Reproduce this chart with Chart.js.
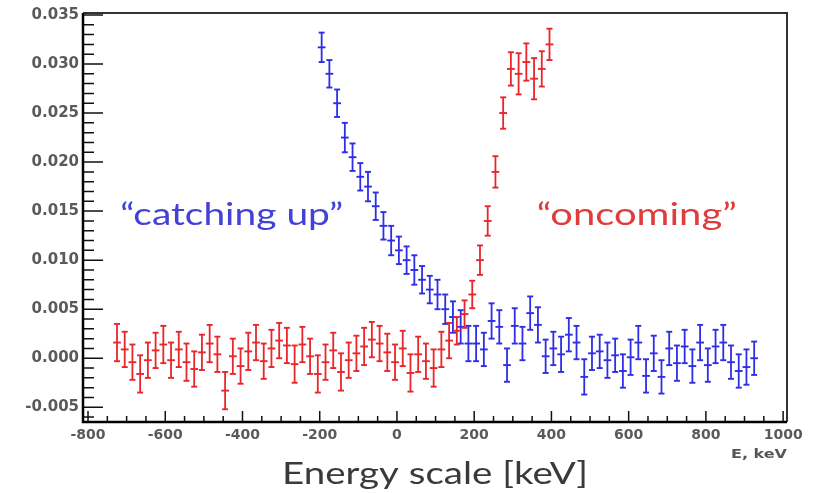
<!DOCTYPE html>
<html lang="en">
<head>
<meta charset="UTF-8">
<title>Energy scale [keV]</title>
<script src="https://cdn.jsdelivr.net/npm/chart.js"></script>
<style>
  html, body { margin:0; padding:0; background:#fff; }
  #c { display:block; }
</style>
</head>
<body>
<canvas id="c" width="815" height="493"></canvas>
<script>
// ---- data ----
const binWidth = 20;          // keV
const redStart = -725;        // centre of first "oncoming" bin
const blueStart = -195;       // centre of first "catching up" bin

const redValues = [
  0.0016, 0.0009, -0.0004, -0.0016, -0.0002, 0.0008, 0.0014, -0.0002, 0.0009, -0.0004,
  -0.0011, 0.0006, 0.0015, 0.0004, -0.0033, 0.0002, -0.0008, 0.0007, 0.0016, -0.0003,
  0.0010, 0.0018, 0.0013, -0.0006, 0.0014, 0.0002, -0.0016, -0.0004, 0.0008, -0.0014,
  -0.0002, 0.0005, 0.0012, 0.0019, 0.0015, 0.0006, -0.0004, 0.0010, -0.0015, 0.0004,
  -0.0003, -0.0010, 0.0009, 0.0018, 0.0028, 0.0045, 0.0065, 0.0100, 0.0140, 0.0190,
  0.0250, 0.0295, 0.0290, 0.0302, 0.0285, 0.0295, 0.0320
];
const redErrors = [
  0.0019, 0.0018, 0.0018, 0.0019, 0.0018, 0.0018, 0.0019, 0.0018, 0.0018, 0.0019,
  0.0018, 0.0018, 0.0019, 0.0018, 0.0019, 0.0018, 0.0018, 0.0019, 0.0018, 0.0018,
  0.0019, 0.0018, 0.0018, 0.0019, 0.0018, 0.0018, 0.0019, 0.0018, 0.0018, 0.0019,
  0.0018, 0.0018, 0.0019, 0.0018, 0.0018, 0.0019, 0.0018, 0.0018, 0.0019, 0.0018,
  0.0018, 0.0019, 0.0018, 0.0018, 0.0014, 0.0014, 0.0014, 0.0015, 0.0015, 0.0016,
  0.0016, 0.0017, 0.0021, 0.0019, 0.0021, 0.0018, 0.0016
];

const blueValues = [
  0.0317, 0.0290, 0.0260, 0.0225, 0.0205, 0.0185, 0.0175, 0.0155, 0.0135, 0.0120,
  0.0110, 0.0100, 0.0090, 0.0080, 0.0070, 0.0065, 0.0050, 0.0042, 0.0032, 0.0015,
  0.0015, 0.0009, 0.0038, 0.0032, -0.0007, 0.0033, 0.0015, 0.0046, 0.0034, 0.0002,
  0.0010, 0.0004, 0.0024, 0.0016, -0.0019, 0.0005, 0.0007, -0.0002, 0.0003, -0.0013,
  0.0001, 0.0016, -0.0018, 0.0005, -0.0019, 0.0010, -0.0005, 0.0012, -0.0008, 0.0016,
  -0.0007, 0.0012, 0.0016, -0.0004, -0.0013, -0.0009, 0.0000
];
const blueErrors = [
  0.0015, 0.0014, 0.0014, 0.0015, 0.0014, 0.0014, 0.0015, 0.0014, 0.0014, 0.0015,
  0.0014, 0.0014, 0.0015, 0.0014, 0.0014, 0.0015, 0.0015, 0.0016, 0.0017, 0.0018,
  0.0018, 0.0017, 0.0018, 0.0017, 0.0017, 0.0018, 0.0017, 0.0017, 0.0018, 0.0017,
  0.0017, 0.0018, 0.0017, 0.0017, 0.0018, 0.0017, 0.0017, 0.0018, 0.0017, 0.0017,
  0.0018, 0.0017, 0.0017, 0.0018, 0.0017, 0.0017, 0.0018, 0.0017, 0.0017, 0.0018,
  0.0017, 0.0017, 0.0018, 0.0017, 0.0017, 0.0018, 0.0017
];

const xTickValues = [-800, -600, -400, -200, 0, 200, 400, 600, 800, 1000];
const yTickValues = [-0.005, 0, 0.005, 0.010, 0.015, 0.020, 0.025, 0.030, 0.035];

// annotations: [text, x (keV), y, colour]
const labels = [
  ['\u201Ccatching up\u201D', -428, 0.0136, '#4242d6'],
  ['\u201Concoming\u201D', 621, 0.0136, '#e03c3c']
];

const RED = '#e8262b';
const BLUE = '#2e2ee6';

// each bin -> 4 points: lower error, value, upper error, gap.
// the value point is a horizontal bar one bin wide, the error ends are short caps
function binRadius(ctx) {
  if (ctx.index % 4 !== 1) return 3;
  const x = ctx.chart.scales.x;
  const r = (x.getPixelForValue(binWidth) - x.getPixelForValue(0)) / 2;
  return isFinite(r) && r > 0 ? r : 3.9;
}

function histSet(start, vals, errs, color) {
  const pts = [];
  vals.forEach((y, i) => {
    const c = start + i * binWidth;
    pts.push({x: c, y: y - errs[i]}, {x: c, y: y}, {x: c, y: y + errs[i]}, {x: c, y: null});
  });
  return { data: pts, borderColor: color, borderWidth: 1.8, spanGaps: false,
    pointStyle: 'line', pointRadius: binRadius, pointBorderWidth: 1.9,
    pointBorderColor: color, pointBackgroundColor: color };
}

// ROOT style frame with inward ticks
const rootFrame = {
  id: 'rootFrame',
  afterDatasetsDraw(chart) {
    const {ctx, chartArea: a, scales: {x, y}} = chart;
    ctx.save();
    ctx.strokeStyle = '#111';
    ctx.lineWidth = 1.5;
    ctx.beginPath();
    for (let v = -800; v <= 1000; v += 50) {
      const px = x.getPixelForValue(v);
      const len = v % 200 === 0 ? 11 : 6;
      ctx.moveTo(px, a.bottom); ctx.lineTo(px, a.bottom - len);
    }
    for (let k = -6; k <= 35; k++) {
      const py = y.getPixelForValue(k / 1000);
      const len = k % 5 === 0 ? 20 : 11;
      ctx.moveTo(a.left, py); ctx.lineTo(a.left + len, py);
    }
    ctx.stroke();
    // top & right frame
    ctx.strokeStyle = '#333';
    ctx.lineWidth = 2;
    ctx.beginPath();
    ctx.moveTo(a.left, a.top); ctx.lineTo(a.right, a.top); ctx.lineTo(a.right, a.bottom);
    ctx.stroke();
    // left & bottom axes
    ctx.strokeStyle = '#000';
    ctx.lineWidth = 2.5;
    ctx.beginPath();
    ctx.moveTo(a.left, a.top); ctx.lineTo(a.left, a.bottom); ctx.lineTo(a.right, a.bottom);
    ctx.stroke();
    ctx.restore();
  }
};

function fitText(ctx, text, cx, base, width, font, color) {
  ctx.save();
  ctx.font = font;
  ctx.fillStyle = color;
  ctx.textAlign = 'center';
  ctx.textBaseline = 'alphabetic';
  const w = ctx.measureText(text).width;
  ctx.translate(cx, base);
  ctx.scale(width / w, 1);
  ctx.fillText(text, 0, 0);
  ctx.restore();
}

const texts = {
  id: 'texts',
  afterDraw(chart) {
    const {ctx, chartArea: a, scales: {x, y}} = chart;
    labels.forEach((l, i) => {
      fitText(ctx, l[0], x.getPixelForValue(l[1]), y.getPixelForValue(l[2]), i ? 200 : 223, '30px Lato', l[3]);
    });
    fitText(ctx, 'E, keV', a.right - 28, a.bottom + 36, 56, 'bold 13px "DejaVu Sans"', '#555');
    fitText(ctx, 'Energy scale [keV]', 435, 484, 306, '31px Lato', '#3a3a3a');
  }
};

new Chart(document.getElementById('c'), {
  type: 'line',
  data: {
    datasets: [
      histSet(redStart, redValues, redErrors, RED),
      histSet(blueStart, blueValues, blueErrors, BLUE)
    ]
  },
  options: {
    responsive: false,
    animation: false,
    devicePixelRatio: 1,
    layout: { padding: { top: 13, right: 28, left: 0, bottom: 0 } },
    plugins: { legend: { display: false }, tooltip: { enabled: false } },
    scales: {
      x: {
        type: 'linear', min: -813, max: 1010,
        grid: { display: false, drawTicks: false },
        border: { display: false },
        afterBuildTicks: s => { s.ticks = xTickValues.map(v => ({ value: v })); },
        afterFit: s => { s.height = 71; },
        ticks: {
          padding: 5, color: '#5a5a5a', maxRotation: 0, autoSkip: false,
          font: { family: 'DejaVu Sans', size: 14, weight: 'bold' },
          callback: v => String(v)
        }
      },
      y: {
        type: 'linear', min: -0.0065, max: 0.0352,
        grid: { display: false, drawTicks: false },
        border: { display: false },
        afterBuildTicks: s => { s.ticks = yTickValues.map(v => ({ value: v })); },
        afterFit: s => { s.width = 83; },
        ticks: {
          padding: 4, color: '#5a5a5a', autoSkip: false,
          font: { family: 'DejaVu Sans', size: 15, weight: 'bold' },
          callback: v => v.toFixed(3)
        }
      }
    }
  },
  plugins: [rootFrame, texts]
});
</script>
</body>
</html>
